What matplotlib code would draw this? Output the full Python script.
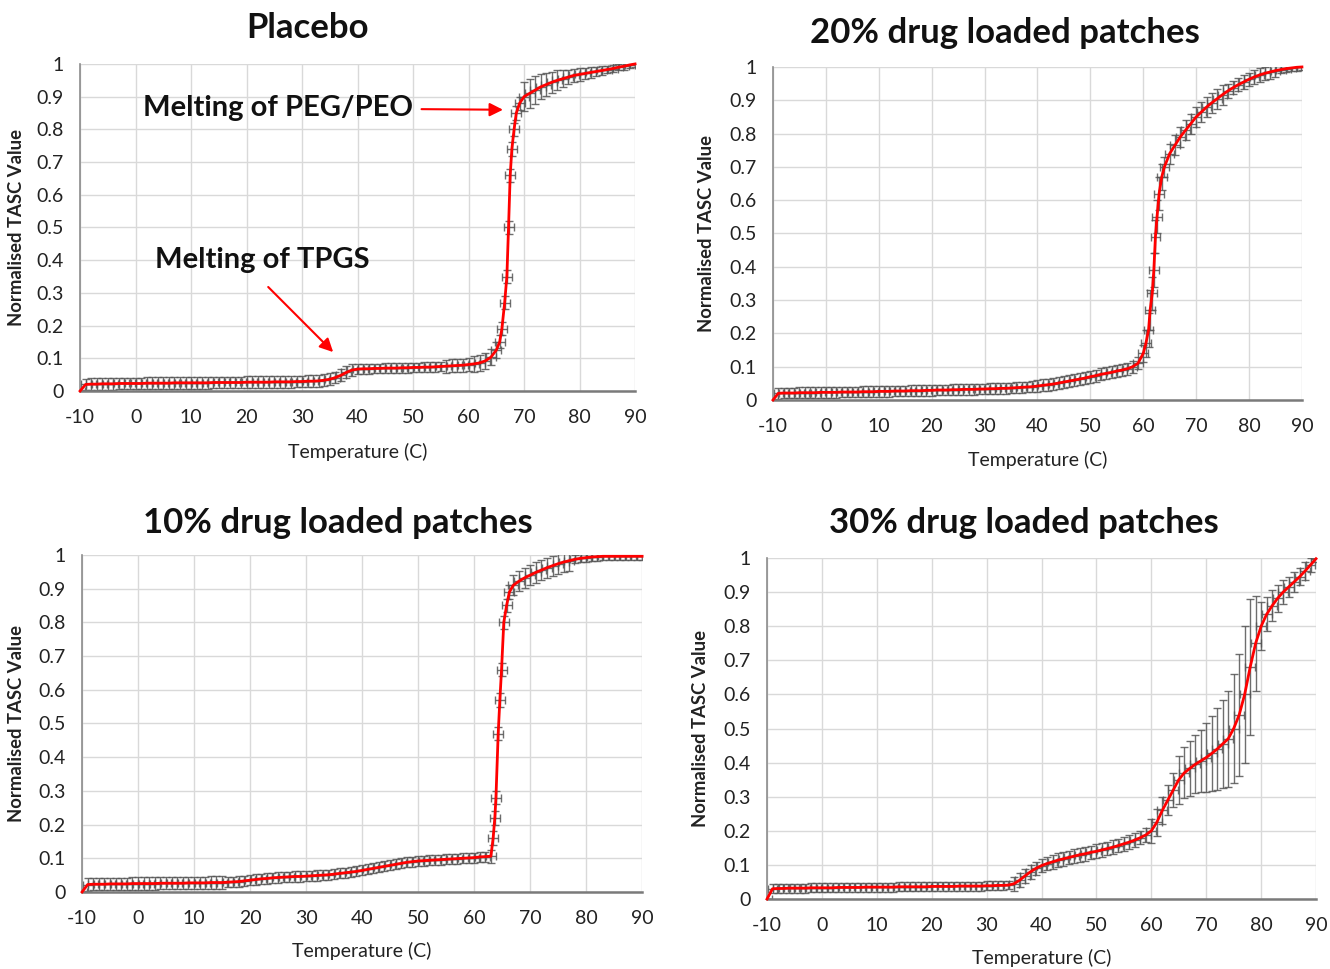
import matplotlib
matplotlib.use("Agg")
import matplotlib.pyplot as plt
import numpy as np

plt.rcParams['font.family'] = ['Lato', 'DejaVu Sans']
plt.rcParams['axes.unicode_minus'] = False

# ---------------- data ----------------
# Placebo
placebo_t = list(range(-10, 66)) + [65.6, 66.0, 66.5, 66.9, 67.2, 67.5, 67.8, 68.2, 68.6, 69.2] + list(range(70, 91))
placebo_v = [0.0, 0.02, 0.021, 0.021, 0.022, 0.022, 0.022, 0.023, 0.023, 0.023,
             0.023, 0.023, 0.024, 0.024, 0.024, 0.024, 0.024, 0.025, 0.025, 0.025,
             0.025, 0.025, 0.025, 0.025, 0.026, 0.026, 0.026, 0.026, 0.026, 0.026,
             0.027, 0.027, 0.027, 0.027, 0.027, 0.028, 0.028, 0.028, 0.028, 0.029,
             0.029, 0.03, 0.03, 0.031, 0.033, 0.036, 0.041, 0.048, 0.057, 0.064,
             0.067, 0.068, 0.068, 0.069, 0.069, 0.07, 0.07, 0.07, 0.071, 0.071,
             0.072, 0.072, 0.073, 0.073, 0.074, 0.075, 0.076, 0.077, 0.078, 0.079,
             0.081, 0.083, 0.086, 0.092, 0.103, 0.125,
             0.15, 0.19, 0.27, 0.35, 0.5, 0.66, 0.74, 0.8, 0.85, 0.88,
             0.9, 0.91, 0.92, 0.93, 0.937, 0.944, 0.95, 0.955, 0.96, 0.965,
             0.968, 0.971, 0.974, 0.977, 0.98, 0.983, 0.986, 0.99, 0.993, 0.997, 1.0]
placebo_e = ([0.0] + [0.018] * 49 + [0.015] * 16 + [0.02] * 5 + [0.025] * 5
             + [0.02] * 10
             + [0.045, 0.045, 0.042, 0.038, 0.035, 0.032, 0.03, 0.026, 0.022, 0.02,
                0.02, 0.018, 0.016, 0.015, 0.014, 0.012, 0.012, 0.01, 0.01, 0.01, 0.008])

# 20% drug loaded
d20_t = list(range(-10, 61)) + [60.5, 61.0, 61.3, 61.7, 62.0, 62.3, 62.6, 63.0, 63.5] + list(range(64, 91))
d20_v = [0.0, 0.02, 0.021, 0.021, 0.021, 0.022, 0.022, 0.022, 0.022, 0.023,
         0.023, 0.023, 0.023, 0.024, 0.024, 0.024, 0.024, 0.025, 0.025, 0.025,
         0.026, 0.026, 0.026, 0.027, 0.027, 0.027, 0.028, 0.028, 0.028, 0.029,
         0.029, 0.03, 0.03, 0.03, 0.031, 0.031, 0.032, 0.032, 0.032, 0.033,
         0.033, 0.034, 0.034, 0.035, 0.035, 0.036, 0.037, 0.038, 0.039, 0.04,
         0.042, 0.044, 0.046, 0.048, 0.051, 0.054, 0.057, 0.06, 0.063, 0.066,
         0.07, 0.073, 0.077, 0.08, 0.083, 0.087, 0.09, 0.094, 0.1, 0.11,
         0.14,
         0.17, 0.21, 0.27, 0.32, 0.39, 0.49, 0.55, 0.62, 0.67,
         0.7, 0.74, 0.765, 0.79, 0.81, 0.83, 0.85, 0.865, 0.88, 0.893,
         0.905, 0.917, 0.928, 0.938, 0.947, 0.955, 0.963, 0.97, 0.976, 0.981,
         0.985, 0.989, 0.992, 0.995, 0.997, 0.999, 1.0]
d20_e = ([0.0] + [0.016] * 49 + [0.018] * 20 + [0.025]
         + [0.04, 0.05, 0.06, 0.05, 0.05, 0.05, 0.05, 0.05, 0.04]
         + [0.03] * 12 + [0.02] * 10 + [0.01] * 5)

# 10% drug loaded
d10_t = list(range(-10, 64)) + [63.4, 63.7, 63.9, 64.3, 64.6, 64.9, 65.3, 65.8, 66.3] + list(range(67, 91))
d10_v = [0.0, 0.022, 0.023, 0.023, 0.023, 0.024, 0.024, 0.024, 0.024, 0.025,
         0.025, 0.025, 0.025, 0.025, 0.026, 0.026, 0.026, 0.026, 0.026, 0.027,
         0.027, 0.027, 0.027, 0.028, 0.028, 0.028, 0.029, 0.03, 0.031, 0.033,
         0.035, 0.037, 0.039, 0.04, 0.042, 0.043, 0.044, 0.045, 0.046, 0.046,
         0.047, 0.048, 0.049, 0.05, 0.051, 0.053, 0.055, 0.057, 0.059, 0.061,
         0.064, 0.067, 0.07, 0.073, 0.076, 0.079, 0.082, 0.085, 0.088, 0.09,
         0.092, 0.093, 0.094, 0.095, 0.096, 0.097, 0.098, 0.099, 0.1, 0.101,
         0.102, 0.104, 0.105, 0.106,
         0.16, 0.22, 0.28, 0.47, 0.57, 0.66, 0.8, 0.85, 0.89,
         0.91, 0.922, 0.932, 0.94, 0.948, 0.955, 0.962, 0.968, 0.974, 0.979,
         0.983, 0.987, 0.99, 0.992, 0.994, 0.995, 0.996, 0.996, 0.996, 0.996,
         0.996, 0.996, 0.996, 0.996]
d10_e = ([0.0] + [0.018] * 25 + [0.015] * 47 + [0.02]
         + [0.02] * 9
         + [0.03] * 11 + [0.012] * 13)

# 30% drug loaded
d30_t = list(range(-10, 91))
d30_v = [0.0, 0.03, 0.031, 0.031, 0.032, 0.032, 0.032, 0.032, 0.033, 0.033,
         0.033, 0.033, 0.033, 0.034, 0.034, 0.034, 0.034, 0.034, 0.035, 0.035,
         0.035, 0.035, 0.035, 0.035, 0.036, 0.036, 0.036, 0.036, 0.036, 0.036,
         0.037, 0.037, 0.037, 0.037, 0.037, 0.038, 0.038, 0.038, 0.038, 0.038,
         0.039, 0.039, 0.04, 0.04, 0.041, 0.045, 0.055, 0.068, 0.08, 0.09,
         0.098, 0.104, 0.109, 0.114, 0.118, 0.122, 0.126, 0.13, 0.133, 0.137,
         0.14, 0.144, 0.148, 0.152, 0.157, 0.162, 0.167, 0.173, 0.18, 0.188,
         0.2, 0.225, 0.26, 0.29, 0.32, 0.35, 0.37, 0.383, 0.395, 0.405,
         0.415, 0.427, 0.44, 0.455, 0.47, 0.5, 0.54, 0.6, 0.68, 0.75,
         0.8, 0.835, 0.86, 0.882, 0.9, 0.915, 0.93, 0.945, 0.962, 0.98, 0.998]
d30_e = ([0.0] + [0.013] * 44 + [0.02] * 25
         + [0.035, 0.04, 0.04, 0.045, 0.05]
         + [0.07, 0.075, 0.08, 0.085, 0.09, 0.1, 0.11, 0.12, 0.13, 0.14,
            0.16, 0.18, 0.2, 0.2, 0.14]
         + [0.07, 0.05, 0.045, 0.04, 0.035, 0.03, 0.03, 0.025, 0.025, 0.02, 0.01])

temp_err = 0.9  # horizontal error, deg C

x_ticks = list(range(-10, 91, 10))
y_ticks = [0, 0.1, 0.2, 0.3, 0.4, 0.5, 0.6, 0.7, 0.8, 0.9, 1]
y_tick_labels = ['0', '0.1', '0.2', '0.3', '0.4', '0.5', '0.6', '0.7', '0.8', '0.9', '1']

panels = [
    ('Placebo', placebo_t, placebo_v, placebo_e),
    ('20% drug loaded patches', d20_t, d20_v, d20_e),
    ('10% drug loaded patches', d10_t, d10_v, d10_e),
    ('30% drug loaded patches', d30_t, d30_v, d30_e),
]

# axes rectangles [left, bottom, width, height] and title / label offsets
rects = [[0.0602, 0.5965, 0.4173, 0.3375],
         [0.5812, 0.5872, 0.3977, 0.3437],
         [0.0617, 0.0795, 0.4211, 0.3478],
         [0.5767, 0.0722, 0.4128, 0.3519]]
title_pos = [(0.409, 1.110), (0.439, 1.102), (0.457, 1.095), (0.468, 1.103)]
ylab_x = [-0.099, -0.110, -0.102, -0.106]
xlab_y = [-0.159, -0.153, -0.148, -0.145]

fig = plt.figure(figsize=(13.3, 9.69), dpi=100)

axes = []
for i, (title, t, v, e) in enumerate(panels):
    assert len(t) == len(v) == len(e), (title, len(t), len(v), len(e))
    ax = fig.add_axes(rects[i])
    axes.append(ax)

    ax.errorbar(t, v, yerr=e, xerr=temp_err, fmt='none', ecolor='#555555',
                elinewidth=1.0, capsize=2.6, capthick=1.0, alpha=0.85, zorder=2)
    ax.plot(t, v, color='#ff0000', lw=2.0, zorder=3, clip_on=False)

    ax.set_xlim(-10, 90)
    ax.set_ylim(0, 1)
    ax.set_xticks(x_ticks)
    ax.set_yticks(y_ticks)
    ax.set_yticklabels(y_tick_labels)
    ax.tick_params(length=0, labelsize=14, colors='#222222')
    ax.tick_params(axis='y', pad=12)
    ax.tick_params(axis='x', pad=13)

    ax.grid(True, color='#d9d9d9', lw=1)
    ax.set_axisbelow(True)
    for s in ['top', 'right']:
        ax.spines[s].set_visible(False)
    ax.spines['left'].set_color('#8c8c8c')
    ax.spines['left'].set_linewidth(1.2)
    ax.spines['bottom'].set_color('#7a7a7a')
    ax.spines['bottom'].set_linewidth(1.8)

    ax.set_xlabel('Temperature (C)', fontsize=14, color='#222222')
    ax.set_ylabel('Normalised TASC Value', fontsize=13.3, fontweight='bold', color='#222222')
    ax.yaxis.set_label_coords(ylab_x[i], 0.5)
    ax.xaxis.set_label_coords(0.5, xlab_y[i])

    ax.text(title_pos[i][0], title_pos[i][1], title, transform=ax.transAxes,
            ha='center', va='center', fontsize=25, fontweight='bold', color='#111111')

# annotations on the placebo panel
ax = axes[0]
ax.annotate('Melting of PEG/PEO', xy=(66.2, 0.86), xytext=(25.7, 0.865),
            ha='center', va='center', fontsize=21, fontweight='bold', color='#111111',
            arrowprops=dict(arrowstyle='-|>', color='#ff0000', lw=1.5,
                            mutation_scale=20, shrinkA=4, shrinkB=0))
ax.text(22.8, 0.40, 'Melting of TPGS', ha='center', va='center',
        fontsize=21, fontweight='bold', color='#111111')
ax.annotate('', xy=(35.6, 0.119), xytext=(23.9, 0.318),
            arrowprops=dict(arrowstyle='-|>', color='#ff0000', lw=1.5,
                            mutation_scale=20, shrinkA=0, shrinkB=0))

fig.savefig('out.png', dpi=100, facecolor='white')
